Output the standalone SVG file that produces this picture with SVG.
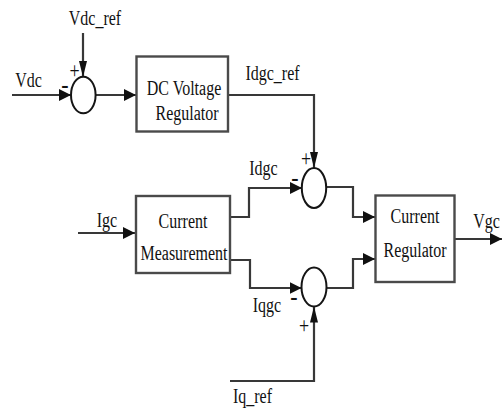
<svg xmlns="http://www.w3.org/2000/svg" width="502" height="412" viewBox="0 0 502 412">
<defs>
<style>
.t{font-family:"Liberation Serif","Times New Roman",serif;font-size:16px;fill:#111;text-anchor:middle}
.s{font-family:"Liberation Serif","Times New Roman",serif;font-size:18px;fill:#111;text-anchor:middle}
.m{font-family:"Liberation Serif","Times New Roman",serif;font-size:22px;fill:#111;text-anchor:middle}
.c{fill:none;stroke:#383838;stroke-width:2.2;stroke-linejoin:miter}
.box{fill:#fff;stroke:#4a4a4a;stroke-width:2.4}
.sum{fill:#fff;stroke:#151515;stroke-width:2}
</style>
<marker id="ah" markerUnits="userSpaceOnUse" markerWidth="12" markerHeight="12" refX="10" refY="5" orient="auto" viewBox="0 0 10 10">
<path d="M0,0 L10,5 L0,10 z" fill="#111"/>
</marker>
<marker id="av" markerUnits="userSpaceOnUse" markerWidth="16" markerHeight="9" refX="14" refY="3.5" orient="auto" viewBox="0 0 14 7">
<path d="M0,0 L14,3.5 L0,7 z" fill="#111"/>
</marker>
</defs>
<rect width="502" height="412" fill="#fff"/>
<g id="connectors">
<path class="c" d="M12,95 H71" marker-end="url(#ah)"/>
<path class="c" d="M83,33 V77" marker-end="url(#av)"/>
<path class="c" d="M95.5,95 H136" marker-end="url(#ah)"/>
<path class="c" d="M228,95 H314 V168" marker-end="url(#av)"/>
<path class="c" d="M78,233 H135" marker-end="url(#ah)"/>
<path class="c" d="M230,217 H249 V188 H302" marker-end="url(#ah)"/>
<path class="c" d="M230,260 H250 V288 H301.5" marker-end="url(#ah)"/>
<path class="c" d="M326,187 H353 V217 H375" marker-end="url(#ah)"/>
<path class="c" d="M326.5,288 H353 V259 H375" marker-end="url(#ah)"/>
<path class="c" d="M230,381 H314 V306.5" marker-end="url(#av)"/>
<path class="c" d="M454,239 H502" marker-end="url(#ah)"/>
</g>
<g id="sum1">
<ellipse class="sum" cx="83.3" cy="95" rx="12.3" ry="18.3"/>
<text class="s" transform="translate(74.5,78) scale(1,1.3)">+</text>
<text class="m" transform="translate(65,93) scale(1,1.2)">-</text>
</g>
<g id="sum2">
<ellipse class="sum" cx="314" cy="188" rx="12.2" ry="20"/>
<text class="s" transform="translate(306,166) scale(1,1.3)">+</text>
<text class="m" transform="translate(295,186) scale(1,1.2)">-</text>
</g>
<g id="sum3">
<ellipse class="sum" cx="314" cy="287" rx="12.5" ry="19.5"/>
<text class="m" transform="translate(294,305) scale(1,1.2)">-</text>
<text class="s" transform="translate(304,333) scale(1,1.3)">+</text>
</g>
<g id="dcvr">
<rect class="box" x="136.5" y="56.5" width="91.5" height="75"/>
<text class="t" transform="translate(184,95) scale(1,1.35)">DC Voltage</text>
<text class="t" transform="translate(187,120) scale(1,1.35)">Regulator</text>
</g>
<g id="cm">
<rect class="box" x="136" y="196" width="94" height="77"/>
<text class="t" transform="translate(183,228) scale(1,1.35)">Current</text>
<text class="t" transform="translate(184,260) scale(1,1.35)">Measurement</text>
</g>
<g id="cr">
<rect class="box" x="375.5" y="195.5" width="79" height="86.5"/>
<text class="t" transform="translate(415,223) scale(1,1.35)">Current</text>
<text class="t" transform="translate(415,257) scale(1,1.35)">Regulator</text>
</g>
<g id="labels">
<text class="t" transform="translate(95,25) scale(1,1.35)">Vdc_ref</text>
<text class="t" transform="translate(28.5,87) scale(1,1.35)">Vdc</text>
<text class="t" transform="translate(272.5,80) scale(1,1.35)">Idgc_ref</text>
<text class="t" transform="translate(263.5,175) scale(1,1.35)">Idgc</text>
<text class="t" transform="translate(107,227) scale(1,1.35)">Igc</text>
<text class="t" transform="translate(267,312) scale(1,1.35)">Iqgc</text>
<text class="t" transform="translate(252.5,403) scale(1,1.35)">Iq_ref</text>
<text class="t" transform="translate(486.5,228) scale(1,1.35)">Vgc</text>
</g>
</svg>
